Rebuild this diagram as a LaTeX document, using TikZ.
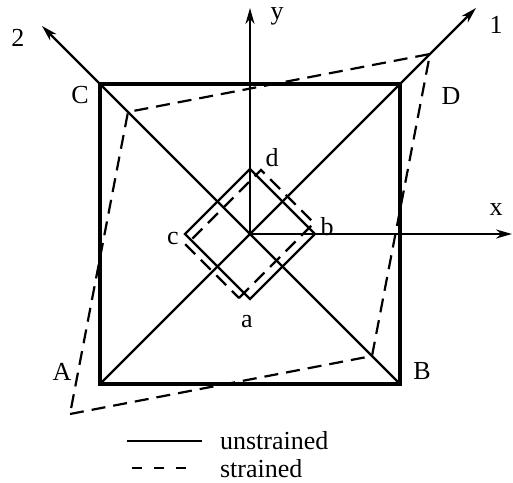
\documentclass[tikz,border=0pt]{standalone}
\usepackage{fontspec}
\setmainfont{Liberation Serif}
\usetikzlibrary{arrows.meta}

\begin{document}
\begin{tikzpicture}[x=0.5pt,y=0.5pt,font=\fontsize{13}{15}\selectfont,
    axis/.style={-{Stealth[length=8pt,width=4.5pt]},line width=1.1pt},
    strained/.style={dash pattern=on 7pt off 4pt,line width=1.1pt}]
    \useasboundingbox (-250,-248) rectangle (263,234);

    % unstrained square and its corners
    \coordinate (O) at (0,0);
    \coordinate (A) at (-150,-150);
    \coordinate (B) at (150,-150);
    \coordinate (C) at (-150,150);
    \coordinate (D) at (150,150);
    \coordinate (tip1) at (226,226);
    \coordinate (tip2) at (-208,208);
    \coordinate (tipx) at (262,0);
    \coordinate (tipy) at (0,226);

    \draw[line width=1.6pt] (A) rectangle (D);
    \draw[axis] (A) -- (tip1);
    \draw[axis] (B) -- (tip2);
    \draw[axis] (O) -- (tipx);
    \draw[axis] (O) -- (tipy);

    % strained shape
    \draw[strained] (-180,-180) coordinate (As) -- (122,-122) coordinate (Bs)
        -- (180,180) coordinate (Ds) -- (-122,122) coordinate (Cs) -- cycle;

    % small element
    \draw[line width=1.1pt] (0,-65) coordinate (a) -- (65,0) coordinate (b)
        -- (0,65) coordinate (d) -- (-65,0) coordinate (c) -- cycle;
    \draw[strained] (-11,-64) -- (64,11) -- (11,64) -- (-64,-11) -- cycle;

    \foreach \name/\pos/\txt in {lA/{-188,-138}/A, lB/{172,-137}/B, lC/{-170,139}/C,
        lD/{201,138}/D, l1/{246,209}/1, l2/{-232,196}/2, lx/{246,24}/x,
        ly/{27,218}/y, la/{-3,-88}/a, lb/{77,7}/b, lc/{-77,-4}/c, ld/{22,76}/d}
        \node (\name) at (\pos) {\txt};

    % legend
    \coordinate (k1) at (-123,-207);
    \coordinate (k2) at (-48,-207);
    \coordinate (k3) at (-118,-234);
    \coordinate (k4) at (-58,-234);
    \draw[line width=1.1pt] (k1) -- (k2);
    \draw[line width=1.1pt,dash pattern=on 5pt off 6pt] (k3) -- (k4);
    \node[anchor=west] (lun) at (-37,-207) {unstrained};
    \node[anchor=west] (lst) at (-37,-235) {strained};
\end{tikzpicture}
\end{document}
